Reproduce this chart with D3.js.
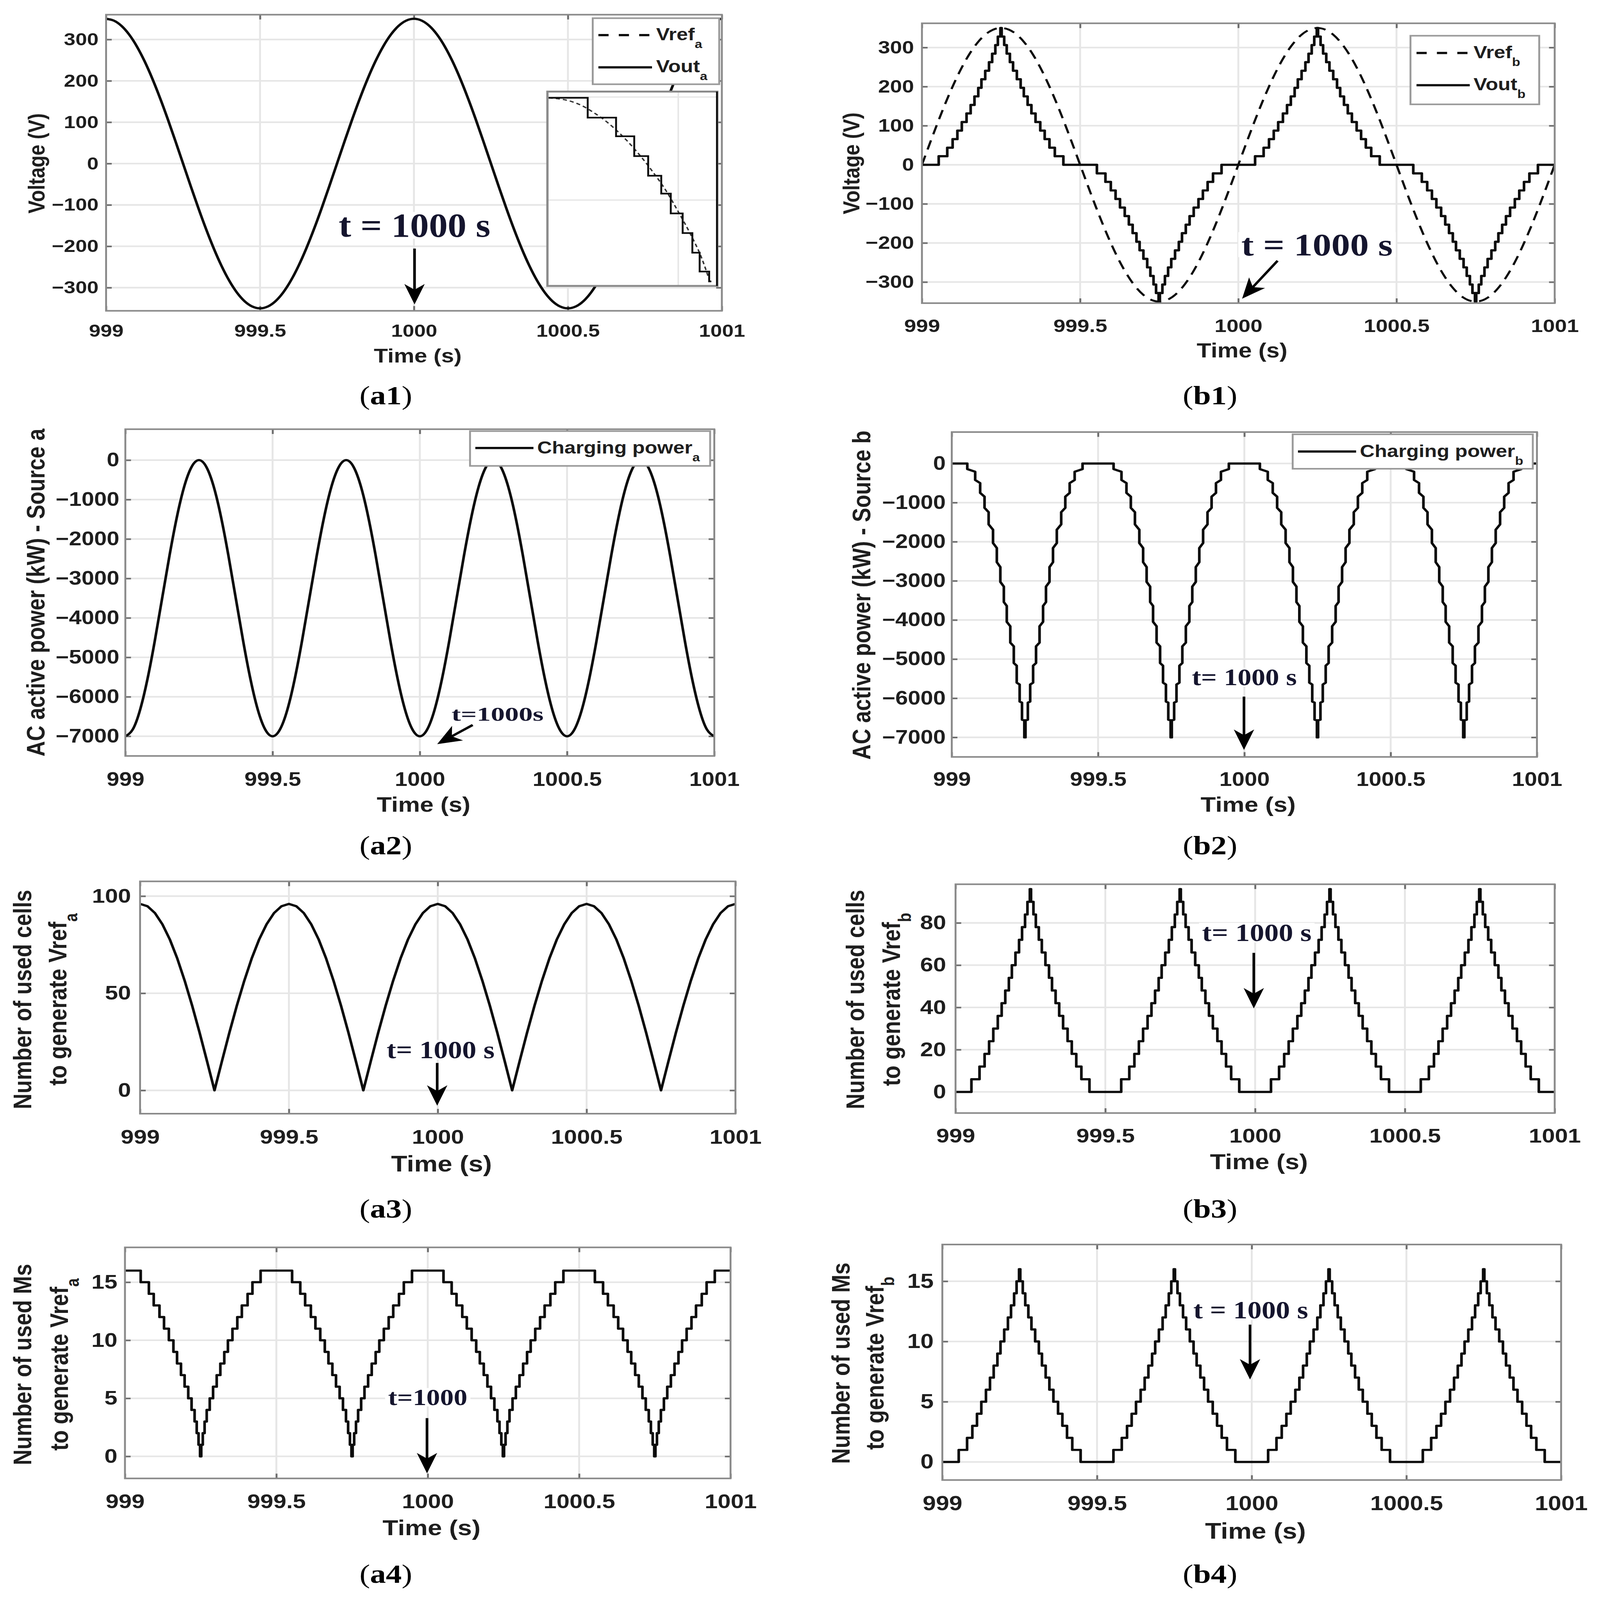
<!DOCTYPE html>
<html>
<head>
<meta charset="utf-8">
<title>Voltage, power and number of used cells / Ms</title>
<script src="https://cdn.jsdelivr.net/npm/d3@7/dist/d3.min.js"></script>
<style>
  html, body { margin: 0; padding: 0; background: #ffffff; overflow: hidden; }
  svg { display: block; width: 100vw; height: 100vh; }
</style>
</head>
<body>
<svg id="fig" viewBox="0 0 4238 5014" preserveAspectRatio="none" xmlns="http://www.w3.org/2000/svg"></svg>
<script>
// ------------------------------------------------------------------ tick values / labels
const timeTicks = [999, 999.5, 1000, 1000.5, 1001];
const timeTickLabels = ["999", "999.5", "1000", "1000.5", "1001"];
const voltTicks = [-300, -200, -100, 0, 100, 200, 300];
const voltTickLabels = ["\u2212300", "\u2212200", "\u2212100", "0", "100", "200", "300"];
const powerTicks = [-7000, -6000, -5000, -4000, -3000, -2000, -1000, 0];
const powerTickLabels = ["\u22127000", "\u22126000", "\u22125000", "\u22124000", "\u22123000", "\u22122000", "\u22121000", "0"];
const cellsATicks = [0, 50, 100];
const cellsATickLabels = ["0", "50", "100"];
const cellsBTicks = [0, 20, 40, 60, 80];
const cellsBTickLabels = ["0", "20", "40", "60", "80"];
const msTicks = [0, 5, 10, 15];
const msTickLabels = ["0", "5", "10", "15"];

// ------------------------------------------------------------------ smooth series (time grid, s)
const sampleTimes = [
  999, 999.025, 999.05, 999.075, 999.1, 999.125, 999.15, 999.175, 999.2, 999.225,
  999.25, 999.275, 999.3, 999.325, 999.35, 999.375, 999.4, 999.425, 999.45, 999.475,
  999.5, 999.525, 999.55, 999.575, 999.6, 999.625, 999.65, 999.675, 999.7, 999.725,
  999.75, 999.775, 999.8, 999.825, 999.85, 999.875, 999.9, 999.925, 999.95, 999.975,
  1000, 1000.025, 1000.05, 1000.075, 1000.1, 1000.125, 1000.15, 1000.175, 1000.2, 1000.225,
  1000.25, 1000.275, 1000.3, 1000.325, 1000.35, 1000.375, 1000.4, 1000.425, 1000.45, 1000.475,
  1000.5, 1000.525, 1000.55, 1000.575, 1000.6, 1000.625, 1000.65, 1000.675, 1000.7, 1000.725,
  1000.75, 1000.775, 1000.8, 1000.825, 1000.85, 1000.875, 1000.9, 1000.925, 1000.95, 1000.975,
  1001
];
// (a1) reference and output voltage of source a (V)
const vrefA = [
  350, 345.7, 332.9, 311.9, 283.2, 247.5, 205.7, 158.9, 108.2, 54.8,
  0, -54.8, -108.2, -158.9, -205.7, -247.5, -283.2, -311.9, -332.9, -345.7,
  -350, -345.7, -332.9, -311.9, -283.2, -247.5, -205.7, -158.9, -108.2, -54.8,
  0, 54.8, 108.2, 158.9, 205.7, 247.5, 283.2, 311.9, 332.9, 345.7,
  350, 345.7, 332.9, 311.9, 283.2, 247.5, 205.7, 158.9, 108.2, 54.8,
  0, -54.8, -108.2, -158.9, -205.7, -247.5, -283.2, -311.9, -332.9, -345.7,
  -350, -345.7, -332.9, -311.9, -283.2, -247.5, -205.7, -158.9, -108.2, -54.8,
  0, 54.8, 108.2, 158.9, 205.7, 247.5, 283.2, 311.9, 332.9, 345.7,
  350
];
const voutA = [
  350, 345.7, 332.9, 311.9, 283.2, 247.5, 205.7, 158.9, 108.2, 54.8,
  0, -54.8, -108.2, -158.9, -205.7, -247.5, -283.2, -311.9, -332.9, -345.7,
  -350, -345.7, -332.9, -311.9, -283.2, -247.5, -205.7, -158.9, -108.2, -54.8,
  0, 54.8, 108.2, 158.9, 205.7, 247.5, 283.2, 311.9, 332.9, 345.7,
  350, 345.7, 332.9, 311.9, 283.2, 247.5, 205.7, 158.9, 108.2, 54.8,
  0, -54.8, -108.2, -158.9, -205.7, -247.5, -283.2, -311.9, -332.9, -345.7,
  -350, -345.7, -332.9, -311.9, -283.2, -247.5, -205.7, -158.9, -108.2, -54.8,
  0, 54.8, 108.2, 158.9, 205.7, 247.5, 283.2, 311.9, 332.9, 345.7,
  350
];
// (b1) reference voltage of source b (V)
const vrefB = [
  0, 54.8, 108.2, 158.9, 205.7, 247.5, 283.2, 311.9, 332.9, 345.7,
  350, 345.7, 332.9, 311.9, 283.2, 247.5, 205.7, 158.9, 108.2, 54.8,
  0, -54.8, -108.2, -158.9, -205.7, -247.5, -283.2, -311.9, -332.9, -345.7,
  -350, -345.7, -332.9, -311.9, -283.2, -247.5, -205.7, -158.9, -108.2, -54.8,
  0, 54.8, 108.2, 158.9, 205.7, 247.5, 283.2, 311.9, 332.9, 345.7,
  350, 345.7, 332.9, 311.9, 283.2, 247.5, 205.7, 158.9, 108.2, 54.8,
  0, -54.8, -108.2, -158.9, -205.7, -247.5, -283.2, -311.9, -332.9, -345.7,
  -350, -345.7, -332.9, -311.9, -283.2, -247.5, -205.7, -158.9, -108.2, -54.8,
  0
];
// (a2) charging power of source a (kW)
const powerA = [
  -7000, -6829, -6332, -5557, -4582, -3500, -2418, -1443, -668, -171,
  0, -171, -668, -1443, -2418, -3500, -4582, -5557, -6332, -6829,
  -7000, -6829, -6332, -5557, -4582, -3500, -2418, -1443, -668, -171,
  0, -171, -668, -1443, -2418, -3500, -4582, -5557, -6332, -6829,
  -7000, -6829, -6332, -5557, -4582, -3500, -2418, -1443, -668, -171,
  0, -171, -668, -1443, -2418, -3500, -4582, -5557, -6332, -6829,
  -7000, -6829, -6332, -5557, -4582, -3500, -2418, -1443, -668, -171,
  0, -171, -668, -1443, -2418, -3500, -4582, -5557, -6332, -6829,
  -7000
];
// (a3) number of used cells for Vref_a
const cellsA = [
  96, 94.8, 91.3, 85.5, 77.7, 67.9, 56.4, 43.6, 29.7, 15.0,
  0, 15.0, 29.7, 43.6, 56.4, 67.9, 77.7, 85.5, 91.3, 94.8,
  96, 94.8, 91.3, 85.5, 77.7, 67.9, 56.4, 43.6, 29.7, 15.0,
  0, 15.0, 29.7, 43.6, 56.4, 67.9, 77.7, 85.5, 91.3, 94.8,
  96, 94.8, 91.3, 85.5, 77.7, 67.9, 56.4, 43.6, 29.7, 15.0,
  0, 15.0, 29.7, 43.6, 56.4, 67.9, 77.7, 85.5, 91.3, 94.8,
  96, 94.8, 91.3, 85.5, 77.7, 67.9, 56.4, 43.6, 29.7, 15.0,
  0, 15.0, 29.7, 43.6, 56.4, 67.9, 77.7, 85.5, 91.3, 94.8,
  96
];

// ------------------------------------------------------------------ staircase series, strategy a
const stepTimesA = [
  999,
  999.052, 999.079, 999.095, 999.114, 999.129, 999.145, 999.160, 999.172, 999.185, 999.197, 999.209, 999.220, 999.230, 999.237, 999.243, 999.248,
  999.252, 999.257, 999.263, 999.270, 999.280, 999.291, 999.303, 999.315, 999.328, 999.340, 999.355, 999.371, 999.386, 999.405, 999.421, 999.448,
  999.552, 999.579, 999.595, 999.614, 999.629, 999.645, 999.660, 999.672, 999.685, 999.697, 999.709, 999.720, 999.730, 999.737, 999.743, 999.748,
  999.752, 999.757, 999.763, 999.770, 999.780, 999.791, 999.803, 999.815, 999.828, 999.840, 999.855, 999.871, 999.886, 999.905, 999.921, 999.948,
  1000.052, 1000.079, 1000.095, 1000.114, 1000.129, 1000.145, 1000.160, 1000.172, 1000.185, 1000.197, 1000.209, 1000.220, 1000.230, 1000.237, 1000.243, 1000.248,
  1000.252, 1000.257, 1000.263, 1000.270, 1000.280, 1000.291, 1000.303, 1000.315, 1000.328, 1000.340, 1000.355, 1000.371, 1000.386, 1000.405, 1000.421, 1000.448,
  1000.552, 1000.579, 1000.595, 1000.614, 1000.629, 1000.645, 1000.660, 1000.672, 1000.685, 1000.697, 1000.709, 1000.720, 1000.730, 1000.737, 1000.743, 1000.748,
  1000.752, 1000.757, 1000.763, 1000.770, 1000.780, 1000.791, 1000.803, 1000.815, 1000.828, 1000.840, 1000.855, 1000.871, 1000.886, 1000.905, 1000.921, 1000.948,
  1001
];
// (a4) number of used Ms for Vref_a
const msA = [
  16,
  15, 14, 13, 12, 11, 10, 9, 8, 7, 6, 5, 4, 3, 2, 1, 0,
  1, 2, 3, 4, 5, 6, 7, 8, 9, 10, 11, 12, 13, 14, 15, 16,
  15, 14, 13, 12, 11, 10, 9, 8, 7, 6, 5, 4, 3, 2, 1, 0,
  1, 2, 3, 4, 5, 6, 7, 8, 9, 10, 11, 12, 13, 14, 15, 16,
  15, 14, 13, 12, 11, 10, 9, 8, 7, 6, 5, 4, 3, 2, 1, 0,
  1, 2, 3, 4, 5, 6, 7, 8, 9, 10, 11, 12, 13, 14, 15, 16,
  15, 14, 13, 12, 11, 10, 9, 8, 7, 6, 5, 4, 3, 2, 1, 0,
  1, 2, 3, 4, 5, 6, 7, 8, 9, 10, 11, 12, 13, 14, 15, 16,
  16
];

// ------------------------------------------------------------------ staircase series, strategy b
const stepTimesB = [
  999,
  999.053, 999.080, 999.097, 999.112, 999.126, 999.141, 999.154, 999.166, 999.178, 999.188, 999.200, 999.212, 999.222, 999.232, 999.240, 999.248,
  999.252, 999.260, 999.268, 999.278, 999.288, 999.300, 999.312, 999.322, 999.334, 999.346, 999.359, 999.374, 999.388, 999.403, 999.420, 999.447,
  999.553, 999.580, 999.597, 999.612, 999.626, 999.641, 999.654, 999.666, 999.678, 999.688, 999.700, 999.712, 999.722, 999.732, 999.740, 999.748,
  999.752, 999.760, 999.768, 999.778, 999.788, 999.800, 999.812, 999.822, 999.834, 999.846, 999.859, 999.874, 999.888, 999.903, 999.920, 999.947,
  1000.053, 1000.080, 1000.097, 1000.112, 1000.126, 1000.141, 1000.154, 1000.166, 1000.178, 1000.188, 1000.200, 1000.212, 1000.222, 1000.232, 1000.240, 1000.248,
  1000.252, 1000.260, 1000.268, 1000.278, 1000.288, 1000.300, 1000.312, 1000.322, 1000.334, 1000.346, 1000.359, 1000.374, 1000.388, 1000.403, 1000.420, 1000.447,
  1000.553, 1000.580, 1000.597, 1000.612, 1000.626, 1000.641, 1000.654, 1000.666, 1000.678, 1000.688, 1000.700, 1000.712, 1000.722, 1000.732, 1000.740, 1000.748,
  1000.752, 1000.760, 1000.768, 1000.778, 1000.788, 1000.800, 1000.812, 1000.822, 1000.834, 1000.846, 1000.859, 1000.874, 1000.888, 1000.903, 1000.920, 1000.947,
  1001
];
// (b1) output voltage of source b (V)
const voutB = [
  0,
  21.9, 43.8, 65.6, 87.5, 109.4, 131.3, 153.1, 175, 196.9, 218.8, 240.6, 262.5, 284.4, 306.3, 328.1, 350,
  328.1, 306.3, 284.4, 262.5, 240.6, 218.8, 196.9, 175, 153.1, 131.3, 109.4, 87.5, 65.6, 43.8, 21.9, 0,
  -21.9, -43.8, -65.6, -87.5, -109.4, -131.3, -153.1, -175, -196.9, -218.8, -240.6, -262.5, -284.4, -306.3, -328.1, -350,
  -328.1, -306.3, -284.4, -262.5, -240.6, -218.8, -196.9, -175, -153.1, -131.3, -109.4, -87.5, -65.6, -43.8, -21.9, 0,
  21.9, 43.8, 65.6, 87.5, 109.4, 131.3, 153.1, 175, 196.9, 218.8, 240.6, 262.5, 284.4, 306.3, 328.1, 350,
  328.1, 306.3, 284.4, 262.5, 240.6, 218.8, 196.9, 175, 153.1, 131.3, 109.4, 87.5, 65.6, 43.8, 21.9, 0,
  -21.9, -43.8, -65.6, -87.5, -109.4, -131.3, -153.1, -175, -196.9, -218.8, -240.6, -262.5, -284.4, -306.3, -328.1, -350,
  -328.1, -306.3, -284.4, -262.5, -240.6, -218.8, -196.9, -175, -153.1, -131.3, -109.4, -87.5, -65.6, -43.8, -21.9, 0,
  0
];
// (b3) number of used cells for Vref_b
const cellsB = [
  0,
  6, 12, 18, 24, 30, 36, 42, 48, 54, 60, 66, 72, 78, 84, 90, 96,
  90, 84, 78, 72, 66, 60, 54, 48, 42, 36, 30, 24, 18, 12, 6, 0,
  6, 12, 18, 24, 30, 36, 42, 48, 54, 60, 66, 72, 78, 84, 90, 96,
  90, 84, 78, 72, 66, 60, 54, 48, 42, 36, 30, 24, 18, 12, 6, 0,
  6, 12, 18, 24, 30, 36, 42, 48, 54, 60, 66, 72, 78, 84, 90, 96,
  90, 84, 78, 72, 66, 60, 54, 48, 42, 36, 30, 24, 18, 12, 6, 0,
  6, 12, 18, 24, 30, 36, 42, 48, 54, 60, 66, 72, 78, 84, 90, 96,
  90, 84, 78, 72, 66, 60, 54, 48, 42, 36, 30, 24, 18, 12, 6, 0,
  0
];
// (b4) number of used Ms for Vref_b
const msB = [
  0,
  1, 2, 3, 4, 5, 6, 7, 8, 9, 10, 11, 12, 13, 14, 15, 16,
  15, 14, 13, 12, 11, 10, 9, 8, 7, 6, 5, 4, 3, 2, 1, 0,
  1, 2, 3, 4, 5, 6, 7, 8, 9, 10, 11, 12, 13, 14, 15, 16,
  15, 14, 13, 12, 11, 10, 9, 8, 7, 6, 5, 4, 3, 2, 1, 0,
  1, 2, 3, 4, 5, 6, 7, 8, 9, 10, 11, 12, 13, 14, 15, 16,
  15, 14, 13, 12, 11, 10, 9, 8, 7, 6, 5, 4, 3, 2, 1, 0,
  1, 2, 3, 4, 5, 6, 7, 8, 9, 10, 11, 12, 13, 14, 15, 16,
  15, 14, 13, 12, 11, 10, 9, 8, 7, 6, 5, 4, 3, 2, 1, 0,
  0
];
// (b2) charging power of source b (kW): [time, power] vertices of the stepped curve
const powerB = [
  [999.000,0],[999.053,0],[999.053,-143],[999.080,-211],[999.080,-422],[999.097,-501],[999.097,-751],[999.112,-849],
  [999.112,-1133],[999.126,-1245],[999.126,-1556],[999.141,-1694],[999.141,-2033],[999.154,-2161],[999.154,-2522],[999.166,-2648],
  [999.166,-3026],[999.178,-3147],[999.178,-3541],[999.188,-3642],[999.188,-4047],[999.200,-4161],[999.200,-4577],[999.212,-4675],
  [999.212,-5100],[999.222,-5169],[999.222,-5600],[999.232,-5651],[999.232,-6086],[999.240,-6113],[999.240,-6549],[999.248,-6562],
  [999.248,-7000],[999.252,-7000],[999.252,-6562],[999.260,-6549],[999.260,-6113],[999.268,-6086],[999.268,-5651],[999.278,-5600],
  [999.278,-5169],[999.288,-5100],[999.288,-4675],[999.300,-4577],[999.300,-4161],[999.312,-4047],[999.312,-3642],[999.322,-3541],
  [999.322,-3147],[999.334,-3026],[999.334,-2648],[999.346,-2522],[999.346,-2161],[999.359,-2033],[999.359,-1694],[999.374,-1556],
  [999.374,-1245],[999.388,-1133],[999.388,-849],[999.403,-751],[999.403,-501],[999.420,-422],[999.420,-211],[999.447,-143],

  [999.447,0],[999.553,0],[999.553,-143],[999.580,-211],[999.580,-422],[999.597,-501],[999.597,-751],[999.612,-849],
  [999.612,-1133],[999.626,-1245],[999.626,-1556],[999.641,-1694],[999.641,-2033],[999.654,-2161],[999.654,-2522],[999.666,-2648],
  [999.666,-3026],[999.678,-3147],[999.678,-3541],[999.688,-3642],[999.688,-4047],[999.700,-4161],[999.700,-4577],[999.712,-4675],
  [999.712,-5100],[999.722,-5169],[999.722,-5600],[999.732,-5651],[999.732,-6086],[999.740,-6113],[999.740,-6549],[999.748,-6562],
  [999.748,-7000],[999.752,-7000],[999.752,-6562],[999.760,-6549],[999.760,-6113],[999.768,-6086],[999.768,-5651],[999.778,-5600],
  [999.778,-5169],[999.788,-5100],[999.788,-4675],[999.800,-4577],[999.800,-4161],[999.812,-4047],[999.812,-3642],[999.822,-3541],
  [999.822,-3147],[999.834,-3026],[999.834,-2648],[999.846,-2522],[999.846,-2161],[999.859,-2033],[999.859,-1694],[999.874,-1556],
  [999.874,-1245],[999.888,-1133],[999.888,-849],[999.903,-751],[999.903,-501],[999.920,-422],[999.920,-211],[999.947,-143],

  [999.947,0],[1000.053,0],[1000.053,-143],[1000.080,-211],[1000.080,-422],[1000.097,-501],[1000.097,-751],[1000.112,-849],
  [1000.112,-1133],[1000.126,-1245],[1000.126,-1556],[1000.141,-1694],[1000.141,-2033],[1000.154,-2161],[1000.154,-2522],[1000.166,-2648],
  [1000.166,-3026],[1000.178,-3147],[1000.178,-3541],[1000.188,-3642],[1000.188,-4047],[1000.200,-4161],[1000.200,-4577],[1000.212,-4675],
  [1000.212,-5100],[1000.222,-5169],[1000.222,-5600],[1000.232,-5651],[1000.232,-6086],[1000.240,-6113],[1000.240,-6549],[1000.248,-6562],
  [1000.248,-7000],[1000.252,-7000],[1000.252,-6562],[1000.260,-6549],[1000.260,-6113],[1000.268,-6086],[1000.268,-5651],[1000.278,-5600],
  [1000.278,-5169],[1000.288,-5100],[1000.288,-4675],[1000.300,-4577],[1000.300,-4161],[1000.312,-4047],[1000.312,-3642],[1000.322,-3541],
  [1000.322,-3147],[1000.334,-3026],[1000.334,-2648],[1000.346,-2522],[1000.346,-2161],[1000.359,-2033],[1000.359,-1694],[1000.374,-1556],
  [1000.374,-1245],[1000.388,-1133],[1000.388,-849],[1000.403,-751],[1000.403,-501],[1000.420,-422],[1000.420,-211],[1000.447,-143],

  [1000.447,0],[1000.553,0],[1000.553,-143],[1000.580,-211],[1000.580,-422],[1000.597,-501],[1000.597,-751],[1000.612,-849],
  [1000.612,-1133],[1000.626,-1245],[1000.626,-1556],[1000.641,-1694],[1000.641,-2033],[1000.654,-2161],[1000.654,-2522],[1000.666,-2648],
  [1000.666,-3026],[1000.678,-3147],[1000.678,-3541],[1000.688,-3642],[1000.688,-4047],[1000.700,-4161],[1000.700,-4577],[1000.712,-4675],
  [1000.712,-5100],[1000.722,-5169],[1000.722,-5600],[1000.732,-5651],[1000.732,-6086],[1000.740,-6113],[1000.740,-6549],[1000.748,-6562],
  [1000.748,-7000],[1000.752,-7000],[1000.752,-6562],[1000.760,-6549],[1000.760,-6113],[1000.768,-6086],[1000.768,-5651],[1000.778,-5600],
  [1000.778,-5169],[1000.788,-5100],[1000.788,-4675],[1000.800,-4577],[1000.800,-4161],[1000.812,-4047],[1000.812,-3642],[1000.822,-3541],
  [1000.822,-3147],[1000.834,-3026],[1000.834,-2648],[1000.846,-2522],[1000.846,-2161],[1000.859,-2033],[1000.859,-1694],[1000.874,-1556],
  [1000.874,-1245],[1000.888,-1133],[1000.888,-849],[1000.903,-751],[1000.903,-501],[1000.920,-422],[1000.920,-211],[1000.947,-143],
  [1000.947,0],[1001.000,0]
];

// ------------------------------------------------------------------ (a1) zoom inset (relative units 0..100)
const insetRefX = [0.7, 14.1, 20.7, 26.7, 34.1, 40.0, 47.4, 54.8, 62.2, 69.6, 77.0, 84.4, 90.4, 95.6];
const insetRefY = [96.8, 94.9, 92.6, 89.5, 85.0, 80.6, 74.2, 66.8, 58.5, 49.3, 38.2, 26.3, 15.2, 2.3];
const insetStepX = [0.7, 23.7, 40.4, 51.1, 59.3, 67.0, 72.6, 79.6, 85.3, 89.6, 95.2, 96.5];
const insetStepY = [96.8, 86.6, 77.0, 66.8, 56.7, 47.5, 37.3, 27.2, 17.1, 7.4, 2.3, 2.3];

// ------------------------------------------------------------------ drawing
const svg = d3.select('#fig');
svg.append('rect').attr('x', 0).attr('y', 0).attr('width', 4238).attr('height', 5014).attr('fill', '#ffffff');
const defs = svg.append('defs');
const SANS = "'Liberation Sans', Arial, Helvetica, sans-serif";
const SERIF = "'Liberation Serif', 'Times New Roman', Times, serif";
const GRID = '#e6e6e6', BOX = '#8a8a8a', TICK = '#6e6e6e', INK = '#1e1e1e', LINE = '#0c0c0c';
let clipN = 0;

function drawPanel(c) {
  const x = d3.scaleLinear().domain([999, 1001]).range([c.x0, c.x1]);
  const y = d3.scaleLinear().domain(c.yDomain).range([c.y1, c.y0]);
  const g = svg.append('g');
  g.append('rect').attr('x', c.x0).attr('y', c.y0).attr('width', c.x1 - c.x0).attr('height', c.y1 - c.y0).attr('fill', '#fff');
  const grid = g.append('g').attr('stroke', GRID).attr('stroke-width', 5);
  grid.selectAll('line.gv').data(timeTicks.slice(1, -1)).join('line').attr('class', 'gv')
    .attr('x1', d => x(d)).attr('x2', d => x(d)).attr('y1', c.y0).attr('y2', c.y1);
  grid.selectAll('line.gh').data(c.yTicks).join('line').attr('class', 'gh')
    .attr('x1', c.x0).attr('x2', c.x1).attr('y1', d => y(d)).attr('y2', d => y(d));

  const style = sel => {
    sel.attr('font-size', null).attr('font-family', null);
    sel.select('.domain').remove();
    sel.selectAll('.tick line').attr('stroke', TICK).attr('stroke-width', 5);
    sel.selectAll('.tick text').attr('fill', INK).attr('font-family', SANS)
      .attr('font-weight', 'bold').attr('font-size', c.tickFont);
  };
  g.append('g').attr('transform', `translate(0,${c.y1})`)
    .call(d3.axisBottom(x).tickValues(timeTicks).tickFormat((d, i) => timeTickLabels[i])
      .tickSizeInner(-15).tickSizeOuter(0).tickPadding(c.xPad)).call(style);
  g.append('g').attr('transform', `translate(0,${c.y0})`)
    .call(d3.axisTop(x).tickValues(timeTicks).tickFormat(() => '').tickSizeInner(-15).tickSizeOuter(0)).call(style);
  g.append('g').attr('transform', `translate(${c.x0},0)`)
    .call(d3.axisLeft(y).tickValues(c.yTicks).tickFormat((d, i) => c.yTickLabels[i])
      .tickSizeInner(-15).tickSizeOuter(0).tickPadding(c.yPad)).call(style);
  g.append('g').attr('transform', `translate(${c.x1},0)`)
    .call(d3.axisRight(y).tickValues(c.yTicks).tickFormat(() => '').tickSizeInner(-15).tickSizeOuter(0)).call(style);

  const clipId = 'clip' + (clipN++);
  defs.append('clipPath').attr('id', clipId).append('rect')
    .attr('x', c.x0).attr('y', c.y0).attr('width', c.x1 - c.x0).attr('height', c.y1 - c.y0);
  const layer = g.append('g').attr('clip-path', `url(#${clipId})`);

  g.append('text').attr('x', (c.x0 + c.x1) / 2 + 10).attr('y', c.xLabelY).attr('text-anchor', 'middle')
    .attr('font-family', SANS).attr('font-weight', 'bold').attr('font-size', c.labelFont).attr('fill', INK)
    .text('Time (s)');
  c.yLabel.forEach(l => {
    const t = g.append('text').attr('transform', `translate(${l.bx},${c.yLabelCY}) rotate(-90)`)
      .attr('text-anchor', 'middle').attr('font-family', SANS).attr('font-weight', 'bold')
      .attr('font-size', c.yLabelFont).attr('fill', INK);
    t.append('tspan').text(l.text);
    if (l.sub) t.append('tspan').attr('dy', c.yLabelFont * 0.42).attr('font-size', c.yLabelFont * 0.7).text(l.sub);
  });
  return { x, y, g, layer, c };
}

function finishPanel(p) {
  const c = p.c;
  p.g.append('rect').attr('x', c.x0).attr('y', c.y0).attr('width', c.x1 - c.x0).attr('height', c.y1 - c.y0)
    .attr('fill', 'none').attr('stroke', BOX).attr('stroke-width', 5);
}

function plotLine(p, pts, curve, opts = {}) {
  const gen = d3.line().x(d => p.x(d[0])).y(d => p.y(d[1])).curve(curve);
  p.layer.append('path').datum(pts).attr('d', gen).attr('fill', 'none')
    .attr('stroke', LINE).attr('stroke-width', opts.width || 7)
    .attr('stroke-linejoin', 'round')
    .attr('stroke-dasharray', opts.dash || null);
}

function legend(p, L) {
  const lg = p.g.append('g');
  lg.append('rect').attr('x', L.x0).attr('y', L.y0).attr('width', L.x1 - L.x0).attr('height', L.y1 - L.y0)
    .attr('fill', '#fff').attr('stroke', '#9a9a9a').attr('stroke-width', 5);
  L.items.forEach(it => {
    lg.append('line').attr('x1', L.lx0).attr('x2', L.lx1).attr('y1', it.ly).attr('y2', it.ly)
      .attr('stroke', LINE).attr('stroke-width', 7).attr('stroke-dasharray', it.dash || null);
    const t = lg.append('text').attr('x', L.tx).attr('y', it.ly + L.base).attr('font-family', SANS)
      .attr('font-weight', 'bold').attr('font-size', L.size).attr('fill', INK);
    t.append('tspan').text(it.text);
    t.append('tspan').attr('dy', L.size * 0.45).attr('font-size', L.size * 0.66).text(it.sub);
  });
}

function annotate(p, a) {
  const ag = p.g.append('g');
  ag.append('rect').attr('x', a.x - 8).attr('y', a.y - a.size * 0.74).attr('width', a.len + 16)
    .attr('height', a.size * 0.8).attr('fill', '#fff');
  ag.append('text').attr('x', a.x).attr('y', a.y).attr('font-family', SERIF).attr('font-weight', 'bold')
    .attr('font-size', a.size).attr('fill', '#15152e').attr('textLength', a.len)
    .attr('lengthAdjust', 'spacingAndGlyphs').text(a.text);
  const [fx, fy] = a.from, [tx, ty] = a.to;
  const len = Math.hypot(tx - fx, ty - fy), ux = (tx - fx) / len, uy = (ty - fy) / len;
  const px = -uy, py = ux, L = 64, W = 27;
  const bx = tx - ux * L, by = ty - uy * L, nx = tx - ux * L * 0.72, ny = ty - uy * L * 0.72;
  ag.append('line').attr('x1', fx).attr('y1', fy).attr('x2', nx).attr('y2', ny)
    .attr('stroke', '#000').attr('stroke-width', 7);
  ag.append('path').attr('d', `M${tx},${ty}L${bx + px * W},${by + py * W}L${nx},${ny}L${bx - px * W},${by - py * W}Z`)
    .attr('fill', '#000');
}

function caption(cx, by, label) {
  const t = svg.append('text').attr('x', cx).attr('y', by).attr('text-anchor', 'middle')
    .attr('font-family', SERIF).attr('font-size', 84).attr('fill', '#000');
  t.append('tspan').text('(');
  t.append('tspan').attr('font-weight', 'bold').text(label);
  t.append('tspan').text(')');
}

// ---------------- (a1)
const pA1 = drawPanel({ x0: 281, x1: 1912, y0: 46, y1: 974, yDomain: [-356, 360], yTicks: voltTicks,
  yTickLabels: voltTickLabels, tickFont: 55, xPad: 42, yPad: 20, labelFont: 61, xLabelY: 1136,
  yLabelFont: 61, yLabelCY: 512, yLabel: [{ text: 'Voltage (V)', bx: 118 }] });
plotLine(pA1, d3.zip(sampleTimes, vrefA), d3.curveNatural, { dash: '30,20', width: 6 });
plotLine(pA1, d3.zip(sampleTimes, voutA), d3.curveNatural);
annotate(pA1, { text: 't = 1000 s', x: 897, y: 742, size: 105, len: 402, from: [1098, 779], to: [1098, 954] });
(function () {
  const ix = d3.scaleLinear().domain([0, 100]).range([1450, 1900]);
  const iy = d3.scaleLinear().domain([0, 100]).range([896, 287]);
  const ig = pA1.g.append('g');
  ig.append('rect').attr('x', 1450).attr('y', 287).attr('width', 450).attr('height', 609).attr('fill', '#fff');
  ig.append('line').attr('x1', ix(77)).attr('x2', ix(77)).attr('y1', 287).attr('y2', 896).attr('stroke', GRID).attr('stroke-width', 4);
  ig.append('line').attr('x1', 1450).attr('x2', 1900).attr('y1', iy(44.2)).attr('y2', iy(44.2)).attr('stroke', GRID).attr('stroke-width', 4);
  ig.append('line').attr('x1', 1450).attr('x2', 1900).attr('y1', iy(97.2)).attr('y2', iy(97.2)).attr('stroke', GRID).attr('stroke-width', 4);
  const refGen = d3.line().x(d => ix(d[0])).y(d => iy(d[1])).curve(d3.curveMonotoneX);
  ig.append('path').datum(d3.zip(insetRefX, insetRefY)).attr('d', refGen).attr('fill', 'none')
    .attr('stroke', '#333').attr('stroke-width', 4).attr('stroke-dasharray', '11,8');
  const stepGen = d3.line().x(d => ix(d[0])).y(d => iy(d[1])).curve(d3.curveStepAfter);
  ig.append('path').datum(d3.zip(insetStepX, insetStepY)).attr('d', stepGen).attr('fill', 'none')
    .attr('stroke', LINE).attr('stroke-width', 5);
  ig.append('rect').attr('x', 1450).attr('y', 287).attr('width', 450).attr('height', 609)
    .attr('fill', 'none').attr('stroke', BOX).attr('stroke-width', 6);
  ig.append('line').attr('x1', 1899).attr('x2', 1899).attr('y1', 287).attr('y2', 896).attr('stroke', '#111').attr('stroke-width', 5);
})();
legend(pA1, { x0: 1570, x1: 1905, y0: 57, y1: 264, lx0: 1585, lx1: 1727, tx: 1738, base: 16, size: 54,
  items: [{ ly: 110, text: 'Vref', sub: 'a', dash: '27,27' }, { ly: 211, text: 'Vout', sub: 'a' }] });
finishPanel(pA1);

// ---------------- (b1)
const pB1 = drawPanel({ x0: 2442, x1: 4118, y0: 73, y1: 950, yDomain: [-354, 362], yTicks: voltTicks,
  yTickLabels: voltTickLabels, tickFont: 57, xPad: 50, yPad: 21, labelFont: 63, xLabelY: 1120,
  yLabelFont: 62, yLabelCY: 512, yLabel: [{ text: 'Voltage (V)', bx: 2276 }] });
plotLine(pB1, d3.zip(sampleTimes, vrefB), d3.curveNatural, { dash: '30,20', width: 6 });
plotLine(pB1, d3.zip(stepTimesB, voutB), d3.curveStepAfter);
annotate(pB1, { text: 't = 1000 s', x: 3288, y: 800, size: 98, len: 401, from: [3384, 817], to: [3290, 936] });
legend(pB1, { x0: 3736, x1: 4077, y0: 112, y1: 327, lx0: 3752, lx1: 3893, tx: 3903, base: 16, size: 54,
  items: [{ ly: 166, text: 'Vref', sub: 'b', dash: '27,27' }, { ly: 267, text: 'Vout', sub: 'b' }] });
finishPanel(pB1);

// ---------------- (a2)
const pA2 = drawPanel({ x0: 332, x1: 1892, y0: 1345, y1: 2369, yDomain: [-7500, 784], yTicks: powerTicks,
  yTickLabels: powerTickLabels, tickFont: 60, xPad: 51, yPad: 16, labelFont: 65, xLabelY: 2544,
  yLabelFont: 67, yLabelCY: 1857, yLabel: [{ text: 'AC active power (kW) - Source a', bx: 118 }] });
plotLine(pA2, d3.zip(sampleTimes, powerA), d3.curveNatural);
annotate(pA2, { text: 't=1000s', x: 1196, y: 2259, size: 62, len: 244, from: [1252, 2272], to: [1158, 2332] });
legend(pA2, { x0: 1245, x1: 1881, y0: 1351, y1: 1460, lx0: 1259, lx1: 1413, tx: 1423, base: 17, size: 54,
  items: [{ ly: 1404, text: 'Charging power', sub: 'a' }] });
finishPanel(pA2);

// ---------------- (b2)
const pB2 = drawPanel({ x0: 2521, x1: 4071, y0: 1354, y1: 2372, yDomain: [-7500, 803], yTicks: powerTicks,
  yTickLabels: powerTickLabels, tickFont: 60, xPad: 48, yPad: 16, labelFont: 66, xLabelY: 2544,
  yLabelFont: 67, yLabelCY: 1865, yLabel: [{ text: 'AC active power (kW) - Source b', bx: 2305 }] });
plotLine(pB2, powerB, d3.curveLinear);
annotate(pB2, { text: 't= 1000 s', x: 3157, y: 2147, size: 74, len: 278, from: [3295, 2183], to: [3295, 2350] });
legend(pB2, { x0: 3424, x1: 4060, y0: 1361, y1: 1469, lx0: 3438, lx1: 3592, tx: 3602, base: 17, size: 54,
  items: [{ ly: 1415, text: 'Charging power', sub: 'b' }] });
finishPanel(pB2);

// ---------------- (a3)
const pA3 = drawPanel({ x0: 371, x1: 1948, y0: 2762, y1: 3490, yDomain: [-12, 107.6], yTicks: cellsATicks,
  yTickLabels: cellsATickLabels, tickFont: 62, xPad: 50, yPad: 24, labelFont: 70, xLabelY: 3671,
  yLabelFont: 68, yLabelCY: 3132,
  yLabel: [{ text: 'Number of used cells', bx: 83 }, { text: 'to generate Vref', sub: 'a', bx: 176 }] });
plotLine(pA3, d3.zip(sampleTimes, cellsA), d3.curveLinear);
annotate(pA3, { text: 't= 1000 s', x: 1024, y: 3316, size: 77, len: 286, from: [1158, 3331], to: [1158, 3465] });
finishPanel(pA3);

// ---------------- (b3)
const pB3 = drawPanel({ x0: 2531, x1: 4118, y0: 2771, y1: 3488, yDomain: [-10, 98.3], yTicks: cellsBTicks,
  yTickLabels: cellsBTickLabels, tickFont: 62, xPad: 48, yPad: 25, labelFont: 68, xLabelY: 3664,
  yLabelFont: 68, yLabelCY: 3132,
  yLabel: [{ text: 'Number of used cells', bx: 2289 }, { text: 'to generate Vref', sub: 'b', bx: 2384 }] });
plotLine(pB3, d3.zip(stepTimesB, cellsB), d3.curveStepAfter);
annotate(pB3, { text: 't= 1000 s', x: 3184, y: 2949, size: 77, len: 290, from: [3321, 2986], to: [3321, 3160] });
finishPanel(pB3);

// ---------------- (a4)
const pA4 = drawPanel({ x0: 331, x1: 1935, y0: 3909, y1: 4633, yDomain: [-1.9, 18], yTicks: msTicks,
  yTickLabels: msTickLabels, tickFont: 62, xPad: 49, yPad: 20, labelFont: 68, xLabelY: 4811,
  yLabelFont: 68, yLabelCY: 4276,
  yLabel: [{ text: 'Number of used Ms', bx: 83 }, { text: 'to generate Vref', sub: 'a', bx: 180 }] });
plotLine(pA4, d3.zip(stepTimesA, msA), d3.curveStepAfter);
annotate(pA4, { text: 't=1000', x: 1028, y: 4403, size: 72, len: 210, from: [1131, 4444], to: [1131, 4617] });
finishPanel(pA4);

// ---------------- (b4)
const pB4 = drawPanel({ x0: 2496, x1: 4135, y0: 3900, y1: 4638, yDomain: [-1.5, 18.05], yTicks: msTicks,
  yTickLabels: msTickLabels, tickFont: 63, xPad: 50, yPad: 23, labelFont: 70, xLabelY: 4822,
  yLabelFont: 68, yLabelCY: 4272,
  yLabel: [{ text: 'Number of used Ms', bx: 2250 }, { text: 'to generate Vref', sub: 'b', bx: 2340 }] });
plotLine(pB4, d3.zip(stepTimesB, msB), d3.curveStepAfter);
annotate(pB4, { text: 't = 1000 s', x: 3161, y: 4132, size: 78, len: 304, from: [3311, 4151], to: [3311, 4323] });
finishPanel(pB4);

// ---------------- captions
caption(1022, 1267, 'a1');
caption(3205, 1267, 'b1');
caption(1022, 2677, 'a2');
caption(3205, 2677, 'b2');
caption(1022, 3816, 'a3');
caption(3205, 3816, 'b3');
caption(1022, 4960, 'a4');
caption(3205, 4960, 'b4');
</script>
</body>
</html>
